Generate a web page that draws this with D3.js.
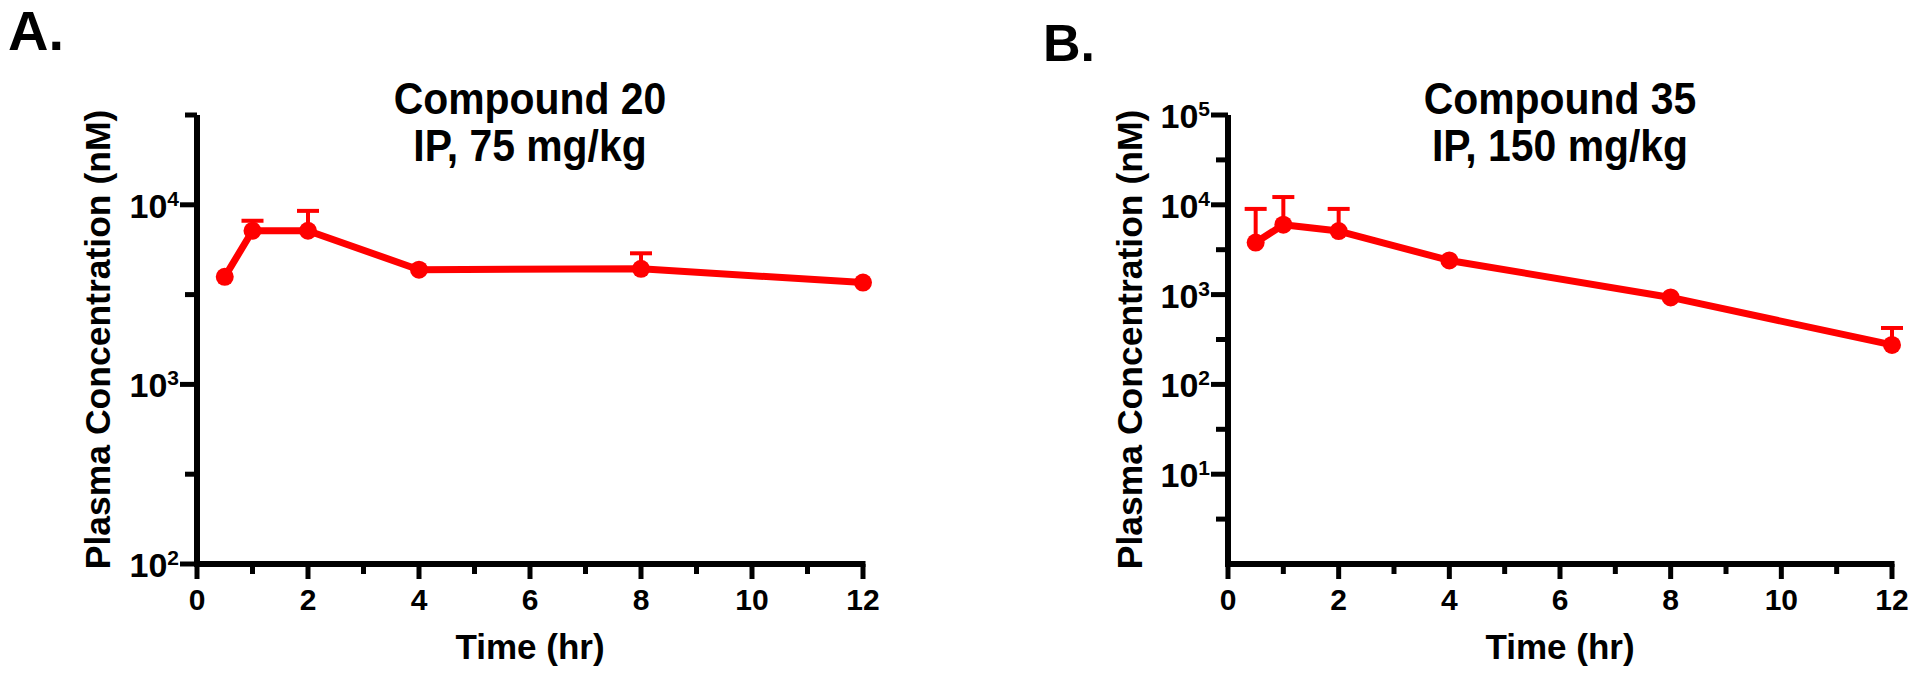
<!DOCTYPE html>
<html><head><meta charset="utf-8">
<script src="https://cdn.jsdelivr.net/npm/d3@7"></script>
<style>
body{margin:0;background:#fff}
svg{display:block}
text{font-family:"Liberation Sans",Arial,Helvetica,sans-serif;font-weight:bold;fill:#000}
</style>
</head><body>
<svg id="chart" width="1920" height="678"></svg>
<script>
// ---- data ----
const timeHr = [0.5, 1, 2, 4, 8, 12];
const compound20Mean = [3970, 7170, 7170, 4350, 4400, 3690];
const compound20SD   = [null, 980, 2080, null, 970, null];
const compound35Mean = [3800, 6000, 5100, 2400, 930, 275];
const compound35SD   = [5200, 6200, 3900, null, null, 150];
const xTickValues = [0,1,2,3,4,5,6,7,8,9,10,11,12];
const xTickLabelValues = [0,2,4,6,8,10,12];
const panelLetters = ["A.", "B."];
const panelTitles = [["Compound 20", "IP, 75 mg/kg"], ["Compound 35", "IP, 150 mg/kg"]];
const yAxisLabel = "Plasma Concentration (nM)";
const xAxisLabel = "Time (hr)";
const yTickExpA = [2, 2.5, 3, 3.5, 4, 4.5];
const yLabelExpA = [2, 3, 4];
const yTickExpB = [0.5, 1, 1.5, 2, 2.5, 3, 3.5, 4, 4.5, 5];
const yLabelExpB = [1, 2, 3, 4, 5];

const RED = "#ff0000";
const svg = d3.select("#chart");

const panels = [
  {left:197, right:863, top:115, bottom:564, yDomain:[1e2, Math.pow(10,4.5)],
   ticks:yTickExpA, labels:yLabelExpA, mean:compound20Mean, sd:compound20SD,
   letter:panelLetters[0], letterX:8, letterY:50, letterSize:56,
   title:panelTitles[0], yLabelX:110},
  {left:1228, right:1892, top:115, bottom:564, yDomain:[1, 1e5],
   ticks:yTickExpB, labels:yLabelExpB, mean:compound35Mean, sd:compound35SD,
   letter:panelLetters[1], letterX:1043, letterY:61, letterSize:52,
   title:panelTitles[1], yLabelX:1142}
];

panels.forEach(p => {
  const g = svg.append("g");
  const x = d3.scaleLinear().domain([0, 12]).range([p.left, p.right]);
  const y = d3.scaleLog().domain(p.yDomain).range([p.bottom, p.top]);
  const cx = (p.left + p.right) / 2;

  // panel letter
  g.append("text").attr("x", p.letterX).attr("y", p.letterY)
    .attr("font-size", p.letterSize).text(p.letter);

  // titles (slightly condensed like the reference)
  g.append("text").attr("transform", `translate(${cx},114) scale(0.93,1)`)
    .attr("text-anchor", "middle").attr("font-size", 44).text(p.title[0]);
  g.append("text").attr("transform", `translate(${cx},161) scale(0.93,1)`)
    .attr("text-anchor", "middle").attr("font-size", 44).text(p.title[1]);

  // y ticks
  g.append("g").selectAll("line").data(p.ticks).join("line")
    .attr("x1", e => p.labels.includes(e) ? p.left - 17 : p.left - 12)
    .attr("x2", p.left)
    .attr("y1", e => y(Math.pow(10, e))).attr("y2", e => y(Math.pow(10, e)))
    .attr("stroke", "#000").attr("stroke-width", 5);

  // y tick labels with superscript
  const yl = g.append("g").selectAll("text").data(p.labels).join("text")
    .attr("x", p.left - 18).attr("y", e => y(Math.pow(10, e)) + 13)
    .attr("text-anchor", "end").attr("font-size", 34);
  yl.append("tspan").text("10");
  yl.append("tspan").attr("dy", -12).attr("font-size", 21).text(e => e);

  // x ticks
  g.append("g").selectAll("line").data(xTickValues).join("line")
    .attr("x1", t => x(t)).attr("x2", t => x(t))
    .attr("y1", p.bottom)
    .attr("y2", t => xTickLabelValues.includes(t) ? p.bottom + 15 : p.bottom + 10)
    .attr("stroke", "#000").attr("stroke-width", 5);
  g.append("g").selectAll("text").data(xTickLabelValues).join("text")
    .attr("x", t => x(t)).attr("y", 610).attr("text-anchor", "middle")
    .attr("font-size", 30).text(t => t);

  // axis lines
  g.append("line").attr("x1", p.left).attr("x2", p.left)
    .attr("y1", p.top).attr("y2", p.bottom + 3)
    .attr("stroke", "#000").attr("stroke-width", 6);
  g.append("line").attr("x1", p.left - 3).attr("x2", p.right + 2.5)
    .attr("y1", p.bottom).attr("y2", p.bottom)
    .attr("stroke", "#000").attr("stroke-width", 6);

  // axis labels
  g.append("text").attr("transform", `translate(${p.yLabelX},${(p.top + p.bottom) / 2}) rotate(-90)`)
    .attr("text-anchor", "middle").attr("font-size", 35.5).text(yAxisLabel);
  g.append("text").attr("x", cx).attr("y", 659).attr("text-anchor", "middle")
    .attr("font-size", 35).text(xAxisLabel);

  // data
  const pts = timeHr.map((t, i) => ({t, m: p.mean[i], s: p.sd[i]}));
  const eb = g.append("g").attr("stroke", RED).attr("stroke-width", 4);
  pts.filter(d => d.s != null).forEach(d => {
    eb.append("line").attr("x1", x(d.t)).attr("x2", x(d.t))
      .attr("y1", y(d.m)).attr("y2", y(d.m + d.s));
    eb.append("line").attr("x1", x(d.t) - 11).attr("x2", x(d.t) + 11)
      .attr("y1", y(d.m + d.s)).attr("y2", y(d.m + d.s));
  });
  g.append("path").datum(pts)
    .attr("d", d3.line().x(d => x(d.t)).y(d => y(d.m)))
    .attr("fill", "none").attr("stroke", RED).attr("stroke-width", 7)
    .attr("stroke-linejoin", "round");
  g.append("g").selectAll("circle").data(pts).join("circle")
    .attr("cx", d => x(d.t)).attr("cy", d => y(d.m)).attr("r", 9).attr("fill", RED);
});
</script>
</body></html>
